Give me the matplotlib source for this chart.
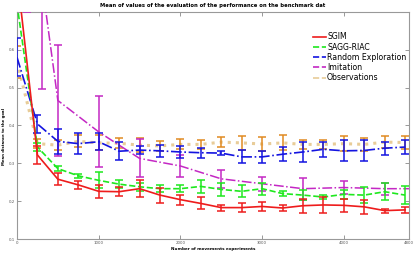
import numpy as np
import matplotlib
matplotlib.use('Agg')
import matplotlib.pyplot as plt

# x positions of the measurements (every 250 movements)
steps = [0, 250, 500, 750, 1000, 1250, 1500, 1750, 2000, 2250, 2500,
         2750, 3000, 3250, 3500, 3750, 4000, 4250, 4500, 4750]

sgim_mean = [0.80, 0.322, 0.258, 0.243, 0.226, 0.225, 0.233, 0.216, 0.204, 0.194, 0.183,
             0.183, 0.186, 0.182, 0.188, 0.190, 0.189, 0.185, 0.175, 0.177]
sgim_err = [0.0, 0.023, 0.016, 0.010, 0.018, 0.012, 0.022, 0.020, 0.013, 0.016, 0.008,
            0.011, 0.011, 0.009, 0.018, 0.022, 0.018, 0.018, 0.005, 0.007]

sagg_mean = [0.72, 0.343, 0.286, 0.267, 0.255, 0.245, 0.238, 0.233, 0.233, 0.239, 0.231,
             0.226, 0.233, 0.220, 0.216, 0.211, 0.218, 0.216, 0.225, 0.216]
sagg_err = [0.0, 0.010, 0.007, 0.005, 0.021, 0.010, 0.010, 0.010, 0.010, 0.018, 0.018,
            0.016, 0.016, 0.006, 0.014, 0.006, 0.012, 0.021, 0.022, 0.023]

rand_mean = [0.58, 0.404, 0.358, 0.352, 0.357, 0.332, 0.335, 0.333, 0.330, 0.328, 0.327,
             0.317, 0.317, 0.324, 0.330, 0.337, 0.333, 0.334, 0.340, 0.343]
rand_err = [0.05, 0.024, 0.033, 0.028, 0.023, 0.024, 0.010, 0.016, 0.015, 0.013, 0.005,
            0.017, 0.016, 0.019, 0.026, 0.020, 0.028, 0.027, 0.017, 0.019]

obs_mean = [0.568, 0.352, 0.348, 0.358, 0.354, 0.353, 0.348, 0.346, 0.350, 0.350, 0.356,
            0.354, 0.351, 0.354, 0.350, 0.350, 0.352, 0.350, 0.356, 0.355]
obs_err = [0.042, 0.012, 0.014, 0.016, 0.020, 0.013, 0.018, 0.014, 0.013, 0.011, 0.014,
           0.018, 0.018, 0.020, 0.012, 0.012, 0.020, 0.017, 0.016, 0.016]

imit_x = [120, 310, 500, 1000, 1500, 2000, 2500, 3000, 3500, 4000, 4500, 5000]
imit_mean = [0.95, 0.77, 0.466, 0.383, 0.313, 0.293, 0.259, 0.246, 0.233, 0.236, 0.233, 0.233]
imit_err = [0.25, 0.273, 0.146, 0.094, 0.050, 0.028, 0.023, 0.019, 0.029, 0.018, 0.016, 0.020]

labels = ['SGIM', 'SAGG-RIAC', 'Random Exploration', 'Imitation', 'Observations']

fig = plt.figure(figsize=(4.15, 2.54), dpi=100)
ax = fig.add_axes([0.041, 0.059, 0.945, 0.894])

cap = 2.6
ew = 1.1

ax.plot(steps, obs_mean, color='#e8cc98', linestyle=':', linewidth=2.2, zorder=1)
ax.errorbar(steps, obs_mean, yerr=obs_err, fmt='none', ecolor='#e08a22',
            elinewidth=ew, capsize=cap, capthick=ew, zorder=2)

ax.errorbar(imit_x, imit_mean, yerr=imit_err, color='#c428c4', linestyle='-.',
            linewidth=1.1, elinewidth=ew, capsize=cap, capthick=ew, zorder=3)
ax.errorbar(steps, rand_mean, yerr=rand_err, color='#1414e0', linestyle='-.',
            linewidth=1.2, elinewidth=ew, capsize=cap, capthick=ew, zorder=4)
ax.errorbar(steps, sagg_mean, yerr=sagg_err, color='#1ee81e', linestyle='--',
            linewidth=1.2, elinewidth=ew, capsize=cap, capthick=ew, zorder=5)
ax.errorbar(steps, sgim_mean, yerr=sgim_err, color='#ee1c1c', linestyle='-',
            linewidth=1.2, elinewidth=ew, capsize=cap, capthick=ew, zorder=6)

# legend handles (plain lines, no error bars)
handles = [
    plt.Line2D([], [], color='#ee1c1c', linestyle='-', linewidth=1.2),
    plt.Line2D([], [], color='#1ee81e', linestyle='--', linewidth=1.2),
    plt.Line2D([], [], color='#1414e0', linestyle='--', linewidth=1.2),
    plt.Line2D([], [], color='#c428c4', linestyle='--', linewidth=1.2),
    plt.Line2D([], [], color='#e8cc98', linestyle='--', linewidth=1.2),
]
ax.legend(handles, labels, loc='upper left', bbox_to_anchor=(0.755, 0.91),
          frameon=False, fontsize=5.6, handlelength=1.6, handletextpad=0.2,
          labelspacing=0.16, borderaxespad=0, borderpad=0)

ax.set_xlim(0, 4800)
ax.set_ylim(0.1, 0.7)
ax.set_xticks([0, 1000, 2000, 3000, 4000, 4800])
ax.set_yticks([0.1, 0.2, 0.3, 0.4, 0.5, 0.6])
ax.tick_params(direction='in', top=True, right=True, length=3, width=0.6,
               labelsize=2.8, colors='#888888', labelcolor='#555555', pad=1.5)
for s in ax.spines.values():
    s.set_color('#999999')
    s.set_linewidth(0.8)

ax.set_title('Mean of values of the evaluation of the performance on the benchmark dat',
             fontsize=3.8, fontweight='bold', pad=3.5)
ax.set_xlabel('Number of movements experiments', fontsize=3.0, fontweight='bold', labelpad=1.5)
ax.set_ylabel('Mean distance to the goal', fontsize=2.8, fontweight='bold')
ax.yaxis.set_label_coords(-0.027, 0.45)

plt.savefig('out.png', dpi=100)
